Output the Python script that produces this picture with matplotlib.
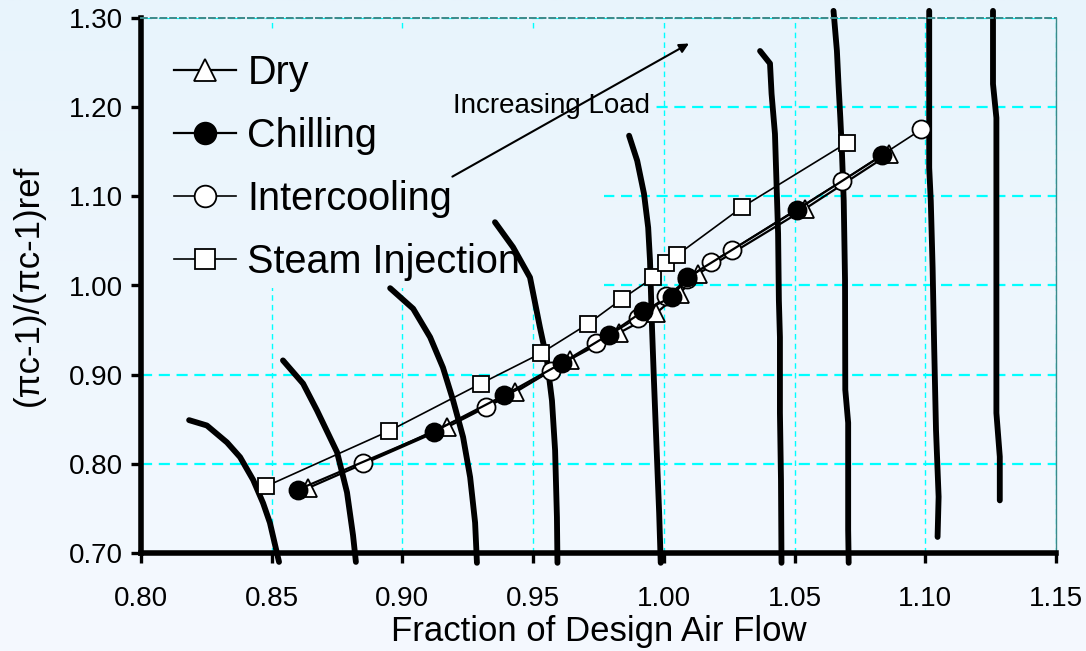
import numpy as np
import matplotlib
matplotlib.use('Agg')
import matplotlib.pyplot as plt

plt.rcParams['font.family'] = ['Liberation Sans', 'DejaVu Sans']

# series
dry_x = [0.864, 0.917, 0.943, 0.964, 0.983, 0.997, 1.006, 1.013, 1.054, 1.086]
dry_y = [0.773, 0.841, 0.880, 0.917, 0.947, 0.969, 0.991, 1.013, 1.086, 1.147]

chill_x = [0.860, 0.912, 0.939, 0.961, 0.979, 0.992, 1.003, 1.009, 1.051, 1.0835]
chill_y = [0.771, 0.836, 0.877, 0.913, 0.945, 0.971, 0.987, 1.009, 1.085, 1.146]

inter_x = [0.885, 0.932, 0.957, 0.974, 0.990, 1.001, 1.009, 1.018, 1.026, 1.068, 1.0985]
inter_y = [0.801, 0.864, 0.904, 0.935, 0.964, 0.988, 1.007, 1.026, 1.040, 1.117, 1.175]

steam_x = [0.848, 0.895, 0.930, 0.953, 0.971, 0.984, 0.996, 1.001, 1.005, 1.030, 1.070]
steam_y = [0.775, 0.837, 0.890, 0.924, 0.957, 0.985, 1.009, 1.025, 1.034, 1.088, 1.160]

# constant load lines
load_lines = [
    ([0.8184, 0.8252, 0.8329, 0.8379, 0.8429, 0.8467, 0.8493, 0.8520, 0.8528],
     [0.849, 0.843, 0.824, 0.8075, 0.782, 0.756, 0.734, 0.700, 0.690]),
    ([0.8543, 0.8620, 0.8673, 0.8750, 0.8788, 0.8811, 0.8822],
     [0.916, 0.890, 0.860, 0.813, 0.768, 0.720, 0.690]),
    ([0.8953, 0.9041, 0.9106, 0.9155, 0.9194, 0.9232, 0.9259, 0.9278, 0.9285],
     [0.997, 0.974, 0.942, 0.908, 0.871, 0.830, 0.785, 0.734, 0.689]),
    ([0.9354, 0.9423, 0.9488, 0.9526, 0.9553, 0.9572, 0.9584, 0.9591, 0.9593],
     [1.071, 1.043, 1.009, 0.953, 0.916, 0.871, 0.815, 0.740, 0.689]),
    ([0.9867, 0.9898, 0.9924, 0.9940, 0.9947, 0.9955, 0.9962, 0.9972, 0.9982, 0.9988],
     [1.168, 1.140, 1.103, 1.065, 1.028, 0.950, 0.894, 0.819, 0.745, 0.689]),
    ([1.0368, 1.0406, 1.0412, 1.0425, 1.0431, 1.0437, 1.0440, 1.0444, 1.0444, 1.0448, 1.0450],
     [1.263, 1.249, 1.215, 1.170, 1.114, 1.058, 0.983, 0.942, 0.857, 0.782, 0.689]),
    ([1.0649, 1.0662, 1.0668, 1.0675, 1.0681, 1.0688, 1.0693, 1.0694, 1.0705, 1.0705, 1.0707],
     [1.308, 1.263, 1.226, 1.188, 1.151, 1.095, 1.006, 0.883, 0.846, 0.726, 0.689]),
    ([1.1015, 1.1015, 1.1021, 1.1028, 1.1034, 1.1041, 1.1051, 1.1047],
     [1.308, 1.132, 1.095, 1.020, 0.931, 0.838, 0.763, 0.718]),
    ([1.1259, 1.1259, 1.1272, 1.1272, 1.1285, 1.1285],
     [1.308, 1.226, 1.188, 0.857, 0.808, 0.759]),
]

xticks_v = [0.80, 0.85, 0.90, 0.95, 1.00, 1.05, 1.10, 1.15]
yticks_v = [0.70, 0.80, 0.90, 1.00, 1.10, 1.20, 1.30]

W, H = 1086, 651
top_c = np.array([232, 244, 252]) / 255.0
bot_c = np.array([245, 249, 255]) / 255.0


def bg_strip(y0, y1, n=128):
    # piece of the figure gradient between pixel rows y0..y1 (from top)
    t = np.linspace(y0 / H, y1 / H, n)[:, None, None]
    g = top_c * (1 - t) + bot_c * t
    return np.repeat(g, 2, axis=1)


fig = plt.figure(figsize=(W / 100, H / 100), dpi=100)

bg = fig.add_axes([0, 0, 1, 1], zorder=-10)
bg.imshow(bg_strip(0, H, 256), aspect='auto', extent=[0, 1, 0, 1])
bg.axis('off')

ax = fig.add_axes([141/W, 1-553/H, 915/W, 535/H])
ax.set_facecolor('none')
ax.set_axisbelow(True)

ax.xaxis.grid(True, color='#00ffff', linestyle=(0, (4, 3)), linewidth=1.0)
ax.yaxis.grid(True, color='#00ffff', linestyle=(0, (5, 3)), linewidth=1.6)

# area behind the legend hides the grid there
ax.imshow(bg_strip(33, 288), aspect='auto', extent=[0.80, 0.9768, 0.997, 1.2832],
          interpolation='bilinear', zorder=1)

ax.set_xlim(0.80, 1.15)
ax.set_ylim(0.70, 1.30)
ax.set_xticks(xticks_v)
ax.set_yticks(yticks_v)
ax.set_xticklabels(['%.2f' % v for v in xticks_v])
ax.set_yticklabels(['%.2f' % v for v in yticks_v])

ax.spines['left'].set_linewidth(4)
ax.spines['bottom'].set_linewidth(4)
ax.spines['top'].set_color('#3c8a8a')
ax.spines['top'].set_linestyle((0, (3, 2)))
ax.spines['top'].set_linewidth(1.4)
ax.spines['right'].set_color('#3c8a8a')
ax.spines['right'].set_linewidth(1.0)

ax.tick_params(axis='x', direction='out', length=7, width=2.4, pad=17, labelsize=20)
ax.tick_params(axis='y', direction='out', length=7, width=2.4, pad=6, labelsize=20)

for lx, ly in load_lines:
    ax.plot(lx, ly, color='black', linewidth=4.2, solid_capstyle='round',
            solid_joinstyle='round', clip_on=False, zorder=2)

ax.plot(dry_x, dry_y, color='black', linewidth=1.6, marker='^', markersize=13,
        markerfacecolor='white', markeredgecolor='black', markeredgewidth=1.3,
        label='Dry', zorder=3)
ax.plot(chill_x, chill_y, color='black', linewidth=1.6, marker='o', markersize=13,
        markerfacecolor='black', markeredgecolor='black', markeredgewidth=1.3,
        label='Chilling', zorder=5)
ax.plot(inter_x, inter_y, color='black', linewidth=1.2, marker='o', markersize=13,
        markerfacecolor='white', markeredgecolor='black', markeredgewidth=1.3,
        label='Intercooling', zorder=4)
ax.plot(steam_x, steam_y, color='black', linewidth=1.2, marker='s', markersize=12,
        markerfacecolor='white', markeredgecolor='black', markeredgewidth=1.3,
        label='Steam Injection', zorder=6)

leg = ax.legend(loc='upper left', bbox_to_anchor=(0.006, 0.985), frameon=False,
                fontsize=28.5, handlelength=1.55, handletextpad=0.3,
                labelspacing=0.63, borderpad=0.2, markerscale=1.2)
leg.set_zorder(7)

txt_c = top_c * (1 - 106 / H) + bot_c * (106 / H)
ax.text(0.9194, 1.2017, 'Increasing Load', fontsize=20, ha='left', va='center',
        bbox=dict(facecolor=txt_c, edgecolor='none', pad=0), zorder=3)
ax.annotate('', xy=(1.0096, 1.2714), xytext=(0.9191, 1.1221),
            arrowprops=dict(arrowstyle='-|>', color='black', lw=1.5,
                            mutation_scale=14, shrinkA=0, shrinkB=0), zorder=8)

ax.set_xlabel('Fraction of Design Air Flow', fontsize=25, labelpad=2)
ax.set_ylabel('(\u03c0c-1)/(\u03c0c-1)ref', fontsize=25, labelpad=17)

fig.savefig('out.png', dpi=100)
